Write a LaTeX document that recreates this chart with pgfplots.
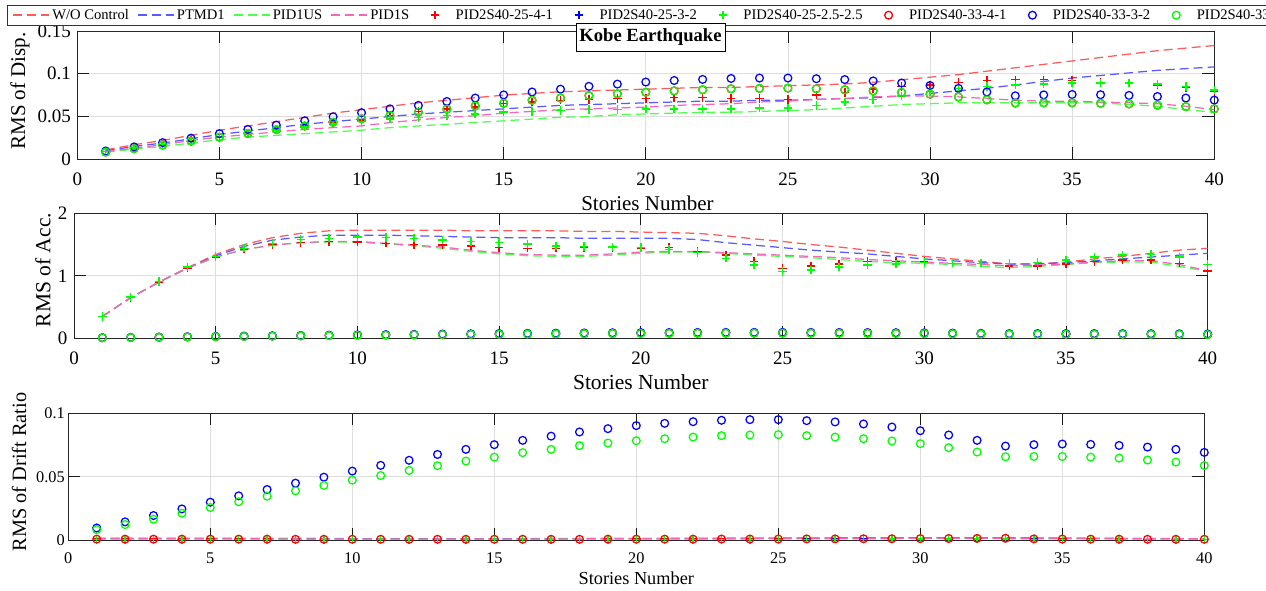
\documentclass[border=0pt]{standalone}
\usepackage{pgfplots}
\usepackage{pgfplotstable}
\pgfplotsset{compat=1.18}
\usepackage{fontspec}
\setmainfont{Liberation Serif}

% n wo pt us ps rp bp gp ro bo go
\pgfplotstableread{
n wo pt us ps rp bp gp ro bo go
1 0.011 0.010 0.008 0.009 0.009 0.009 0.009 0.0084 0.0097 0.0084
2 0.017 0.015 0.012 0.013 0.013 0.013 0.013 0.0124 0.0145 0.0124
3 0.022 0.019 0.015 0.017 0.017 0.017 0.017 0.0166 0.0195 0.0166
4 0.028 0.024 0.019 0.022 0.022 0.021 0.021 0.0213 0.0247 0.0213
5 0.034 0.029 0.023 0.026 0.026 0.026 0.026 0.0258 0.0300 0.0258
6 0.039 0.033 0.026 0.029 0.031 0.030 0.030 0.0303 0.0350 0.0303
7 0.044 0.037 0.028 0.032 0.035 0.034 0.034 0.0347 0.0400 0.0347
8 0.049 0.041 0.030 0.035 0.039 0.038 0.038 0.0390 0.0450 0.0390
9 0.054 0.044 0.032 0.037 0.043 0.041 0.041 0.0432 0.0497 0.0432
10 0.058 0.047 0.034 0.039 0.046 0.044 0.044 0.0474 0.0545 0.0474
11 0.062 0.050 0.037 0.043 0.051 0.047 0.047 0.0510 0.0590 0.0510
12 0.066 0.053 0.039 0.046 0.056 0.049 0.049 0.0550 0.0630 0.0550
13 0.069 0.055 0.041 0.049 0.059 0.051 0.051 0.0587 0.0676 0.0587
14 0.072 0.057 0.043 0.051 0.061 0.053 0.053 0.0624 0.0716 0.0624
15 0.075 0.059 0.045 0.054 0.065 0.055 0.055 0.0655 0.0753 0.0655
16 0.077 0.061 0.047 0.056 0.067 0.056 0.056 0.0690 0.0787 0.0690
17 0.079 0.063 0.049 0.058 0.069 0.057 0.057 0.0716 0.0820 0.0716
18 0.080 0.064 0.050 0.059 0.070 0.058 0.058 0.0745 0.0853 0.0745
19 0.081 0.065 0.052 0.060 0.071 0.058 0.058 0.0766 0.0879 0.0766
20 0.082 0.066 0.053 0.061 0.071 0.059 0.059 0.0784 0.0903 0.0784
21 0.083 0.067 0.054 0.063 0.072 0.059 0.059 0.0800 0.0921 0.0800
22 0.084 0.068 0.055 0.064 0.072 0.059 0.059 0.0813 0.0934 0.0813
23 0.084 0.068 0.055 0.065 0.071 0.059 0.059 0.0824 0.0945 0.0824
24 0.085 0.069 0.056 0.067 0.071 0.060 0.060 0.0829 0.0950 0.0829
25 0.086 0.069 0.057 0.068 0.070 0.060 0.060 0.0832 0.0950 0.0832
26 0.087 0.070 0.058 0.070 0.075 0.063 0.063 0.0824 0.0942 0.0824
27 0.088 0.071 0.060 0.071 0.078 0.067 0.067 0.0813 0.0932 0.0813
28 0.090 0.072 0.062 0.073 0.082 0.070 0.070 0.0800 0.0916 0.0800
29 0.093 0.074 0.064 0.074 0.085 0.074 0.074 0.0782 0.0892 0.0782
30 0.096 0.077 0.065 0.074 0.087 0.079 0.079 0.0761 0.0863 0.0761
31 0.099 0.080 0.066 0.073 0.090 0.083 0.083 0.0729 0.0829 0.0729
32 0.103 0.083 0.066 0.071 0.092 0.085 0.085 0.0695 0.0787 0.0695
33 0.107 0.087 0.066 0.069 0.093 0.087 0.087 0.0658 0.0742 0.0658
34 0.111 0.091 0.066 0.068 0.093 0.088 0.088 0.0660 0.0753 0.0660
35 0.115 0.095 0.066 0.068 0.092 0.089 0.089 0.0660 0.0758 0.0660
36 0.119 0.098 0.066 0.067 0.090 0.089 0.089 0.0655 0.0755 0.0655
37 0.123 0.101 0.064 0.066 0.089 0.089 0.089 0.0647 0.0747 0.0647
38 0.127 0.104 0.062 0.065 0.087 0.088 0.088 0.0632 0.0734 0.0632
39 0.130 0.106 0.058 0.062 0.084 0.085 0.085 0.0616 0.0716 0.0616
40 0.133 0.108 0.055 0.058 0.080 0.081 0.081 0.0589 0.0692 0.0589
}\tdisp

\pgfplotstableread{
n wo pt us ps rp bp gp ro bo go
1 0.35 0.35 0.35 0.35 0.35 0.35 0.35 0.0084 0.0097 0.0084
2 0.65 0.65 0.65 0.65 0.65 0.66 0.66 0.0124 0.0145 0.0124
3 0.90 0.90 0.90 0.90 0.90 0.91 0.91 0.0166 0.0195 0.0166
4 1.13 1.12 1.12 1.12 1.12 1.14 1.14 0.0213 0.0247 0.0213
5 1.34 1.32 1.30 1.30 1.30 1.31 1.31 0.0258 0.0300 0.0258
6 1.50 1.47 1.42 1.42 1.43 1.44 1.44 0.0303 0.0350 0.0303
7 1.61 1.57 1.49 1.49 1.50 1.52 1.52 0.0347 0.0400 0.0347
8 1.68 1.62 1.53 1.53 1.53 1.58 1.58 0.0390 0.0450 0.0390
9 1.72 1.65 1.54 1.55 1.55 1.60 1.60 0.0432 0.0497 0.0432
10 1.73 1.65 1.54 1.55 1.54 1.62 1.62 0.0474 0.0545 0.0474
11 1.73 1.65 1.51 1.52 1.52 1.61 1.61 0.0510 0.0590 0.0510
12 1.73 1.64 1.48 1.49 1.50 1.60 1.60 0.0550 0.0630 0.0550
13 1.73 1.63 1.44 1.46 1.49 1.57 1.57 0.0587 0.0676 0.0587
14 1.72 1.62 1.39 1.41 1.48 1.55 1.55 0.0624 0.0716 0.0624
15 1.72 1.61 1.35 1.37 1.45 1.53 1.53 0.0655 0.0753 0.0655
16 1.72 1.61 1.32 1.34 1.44 1.51 1.51 0.0690 0.0787 0.0690
17 1.72 1.61 1.31 1.33 1.44 1.48 1.48 0.0716 0.0820 0.0716
18 1.71 1.60 1.31 1.33 1.45 1.47 1.47 0.0745 0.0853 0.0745
19 1.71 1.60 1.33 1.35 1.45 1.46 1.46 0.0766 0.0879 0.0766
20 1.70 1.60 1.36 1.38 1.44 1.45 1.45 0.0784 0.0903 0.0784
21 1.69 1.60 1.38 1.39 1.45 1.42 1.42 0.0800 0.0921 0.0800
22 1.68 1.58 1.38 1.39 1.39 1.37 1.37 0.0813 0.0934 0.0813
23 1.64 1.53 1.36 1.37 1.33 1.28 1.28 0.0824 0.0945 0.0824
24 1.59 1.49 1.33 1.35 1.23 1.17 1.17 0.0829 0.0950 0.0829
25 1.55 1.45 1.31 1.33 1.12 1.07 1.07 0.0832 0.0950 0.0832
26 1.50 1.41 1.29 1.31 1.16 1.09 1.09 0.0824 0.0942 0.0824
27 1.46 1.38 1.26 1.29 1.19 1.14 1.14 0.0813 0.0932 0.0813
28 1.41 1.35 1.23 1.26 1.23 1.17 1.17 0.0800 0.0916 0.0800
29 1.36 1.31 1.21 1.24 1.23 1.19 1.19 0.0782 0.0892 0.0782
30 1.31 1.27 1.20 1.22 1.23 1.21 1.21 0.0761 0.0863 0.0761
31 1.27 1.24 1.18 1.20 1.20 1.20 1.20 0.0729 0.0829 0.0729
32 1.23 1.21 1.15 1.18 1.20 1.20 1.20 0.0695 0.0787 0.0695
33 1.19 1.19 1.13 1.16 1.16 1.20 1.20 0.0658 0.0742 0.0658
34 1.19 1.19 1.15 1.17 1.16 1.21 1.21 0.0660 0.0753 0.0660
35 1.22 1.21 1.18 1.19 1.19 1.25 1.25 0.0660 0.0758 0.0660
36 1.27 1.24 1.21 1.22 1.23 1.30 1.30 0.0655 0.0755 0.0655
37 1.31 1.27 1.22 1.24 1.25 1.33 1.33 0.0647 0.0747 0.0647
38 1.36 1.30 1.22 1.24 1.25 1.34 1.34 0.0632 0.0734 0.0632
39 1.41 1.33 1.15 1.18 1.20 1.30 1.30 0.0616 0.0716 0.0616
40 1.44 1.36 1.07 1.08 1.08 1.18 1.18 0.0589 0.0692 0.0589
}\tacc

\pgfplotstableread{
n wo pt us ps rp bp gp ro bo go
1 0.0016 0.0015 0.0010 0.0012 0.0009 0.0007 0.0006 0.0009 0.0097 0.0084
2 0.0016 0.0015 0.0010 0.0012 0.0009 0.0007 0.0006 0.0009 0.0145 0.0124
3 0.0016 0.0015 0.0010 0.0012 0.0009 0.0007 0.0006 0.0009 0.0195 0.0166
4 0.0016 0.0015 0.0010 0.0012 0.0009 0.0007 0.0006 0.0009 0.0247 0.0213
5 0.0016 0.0015 0.0010 0.0012 0.0009 0.0007 0.0006 0.0009 0.0300 0.0258
6 0.0015 0.0015 0.0010 0.0012 0.0009 0.0007 0.0006 0.0009 0.0350 0.0303
7 0.0015 0.0014 0.0010 0.0011 0.0009 0.0007 0.0006 0.0009 0.0400 0.0347
8 0.0014 0.0014 0.0009 0.0011 0.0008 0.0007 0.0006 0.0008 0.0450 0.0390
9 0.0014 0.0013 0.0009 0.0011 0.0008 0.0007 0.0006 0.0008 0.0497 0.0432
10 0.0013 0.0013 0.0009 0.0011 0.0008 0.0007 0.0006 0.0008 0.0545 0.0474
11 0.0013 0.0013 0.0009 0.0011 0.0008 0.0007 0.0006 0.0008 0.0590 0.0510
12 0.0013 0.0013 0.0009 0.0011 0.0008 0.0007 0.0006 0.0008 0.0630 0.0550
13 0.0013 0.0013 0.0009 0.0011 0.0008 0.0007 0.0006 0.0008 0.0676 0.0587
14 0.0013 0.0013 0.0009 0.0011 0.0008 0.0007 0.0006 0.0008 0.0716 0.0624
15 0.0013 0.0013 0.0009 0.0011 0.0008 0.0007 0.0006 0.0008 0.0753 0.0655
16 0.0013 0.0013 0.0009 0.0011 0.0008 0.0007 0.0006 0.0008 0.0787 0.0690
17 0.0014 0.0013 0.0009 0.0011 0.0008 0.0007 0.0006 0.0008 0.0820 0.0716
18 0.0014 0.0013 0.0010 0.0011 0.0008 0.0007 0.0006 0.0008 0.0853 0.0745
19 0.0014 0.0014 0.0010 0.0012 0.0009 0.0007 0.0006 0.0009 0.0879 0.0766
20 0.0015 0.0014 0.0010 0.0012 0.0009 0.0007 0.0006 0.0009 0.0903 0.0784
21 0.0015 0.0014 0.0010 0.0012 0.0009 0.0007 0.0006 0.0009 0.0921 0.0800
22 0.0016 0.0015 0.0011 0.0013 0.0009 0.0008 0.0007 0.0009 0.0934 0.0813
23 0.0016 0.0015 0.0011 0.0013 0.0010 0.0008 0.0007 0.0010 0.0945 0.0824
24 0.0017 0.0016 0.0011 0.0013 0.0010 0.0008 0.0007 0.0010 0.0950 0.0829
25 0.0017 0.0016 0.0012 0.0014 0.0010 0.0008 0.0007 0.0010 0.0950 0.0832
26 0.0018 0.0017 0.0012 0.0014 0.0011 0.0009 0.0008 0.0011 0.0942 0.0824
27 0.0018 0.0017 0.0012 0.0014 0.0011 0.0009 0.0008 0.0011 0.0932 0.0813
28 0.0019 0.0018 0.0013 0.0015 0.0012 0.0009 0.0008 0.0012 0.0916 0.0800
29 0.0019 0.0018 0.0013 0.0015 0.0012 0.0010 0.0009 0.0012 0.0892 0.0782
30 0.0020 0.0019 0.0014 0.0016 0.0013 0.0010 0.0009 0.0013 0.0863 0.0761
31 0.0020 0.0019 0.0014 0.0016 0.0014 0.0011 0.0010 0.0014 0.0829 0.0729
32 0.0020 0.0019 0.0014 0.0016 0.0015 0.0011 0.0010 0.0015 0.0787 0.0695
33 0.0019 0.0018 0.0013 0.0015 0.0016 0.0010 0.0009 0.0016 0.0742 0.0658
34 0.0018 0.0017 0.0013 0.0015 0.0011 0.0009 0.0008 0.0011 0.0753 0.0660
35 0.0017 0.0016 0.0012 0.0014 0.0010 0.0008 0.0007 0.0010 0.0758 0.0660
36 0.0016 0.0015 0.0012 0.0014 0.0009 0.0008 0.0007 0.0009 0.0755 0.0655
37 0.0015 0.0014 0.0011 0.0013 0.0009 0.0007 0.0006 0.0009 0.0747 0.0647
38 0.0014 0.0013 0.0011 0.0013 0.0008 0.0007 0.0006 0.0008 0.0734 0.0632
39 0.0013 0.0012 0.0010 0.0012 0.0008 0.0006 0.0005 0.0008 0.0716 0.0616
40 0.0012 0.0011 0.0009 0.0011 0.0008 0.0006 0.0005 0.0008 0.0692 0.0589
}\tdrift

\pgfplotsset{
  linelegend/.style={legend image code/.code={%
    \draw[draw=#1, line width=1.5pt, dash pattern=on 9pt off 5pt] (0pt,0pt) -- (36pt,0pt);}},
  pluslegend/.style={legend image code/.code={%
    \path[draw=none] (0pt,0pt) -- (36pt,0pt);
    \draw[draw=#1, line width=1.6pt, solid] (13.8pt,0pt) -- (22.2pt,0pt) (18pt,-4.2pt) -- (18pt,4.2pt);}},
  circlegend/.style={legend image code/.code={%
    \path[draw=none] (0pt,0pt) -- (36pt,0pt);
    \draw[draw=#1, line width=1.3pt, solid] (18pt,0pt) circle[radius=3.9pt];}},
  dline/.style={no markers, line width=1.25pt, dash pattern=on 9pt off 5pt, color=#1, draw=#1, linelegend=#1},
  pmark/.style={only marks, mark=+, mark size=4.2pt, mark options={line width=1.5pt, solid, draw=#1}, color=#1, pluslegend=#1},
  omark/.style={only marks, mark=o, mark size=3.9pt, mark options={line width=1.25pt, solid, draw=#1}, color=#1, circlegend=#1},
  mstyle/.style={
    scale only axis, xmin=0, xmax=40, xtick={0,5,...,40}, clip=false,
    axis line style={draw=black!85, line width=0.8pt},
    every tick/.style={draw=black!90, line width=0.8pt},
    tick align=inside, major tick length=12pt,
    xmajorgrids, ymajorgrids,
    grid style={draw=black!13, line width=0.8pt},
    /pgf/number format/assume math mode=true,
    xlabel={Stories Number},
  },
}

\newcommand{\plotall}[1]{%
  \addplot[dline=red!65!white] table[x=n,y=wo]{#1};
  \addplot[dline=blue!65!white] table[x=n,y=pt]{#1};
  \addplot[dline=green!70!white] table[x=n,y=us]{#1};
  \addplot[dline=magenta!60!white] table[x=n,y=ps]{#1};
  \addplot[pmark=red] table[x=n,y=rp]{#1};
  \addplot[pmark=blue] table[x=n,y=bp]{#1};
  \addplot[pmark=green] table[x=n,y=gp]{#1};
  \addplot[omark=red] table[x=n,y=ro]{#1};
  \addplot[omark=blue] table[x=n,y=bo]{#1};
  \addplot[omark=green] table[x=n,y=go]{#1};
}

\begin{document}
\begin{tikzpicture}
\path[use as bounding box] (0pt,0pt) rectangle (1266pt,591pt);
\clip (0pt,0pt) rectangle (1266pt,591pt);

% ---- axis 1: displacement
\begin{axis}[mstyle,
  at={(77.3pt,431.7pt)}, anchor=south west, width=1137pt, height=128.3pt,
  ymin=0, ymax=0.15, ytick={0,0.05,0.1,0.15}, yticklabels={0,0.05,0.1,0.15},
  tick label style={font=\fontsize{19}{22}\selectfont},
  xticklabel style={yshift=-10pt},
  yticklabel style={xshift=-3pt},
  label style={font=\fontsize{21}{24}\selectfont},
  ylabel={RMS of Disp.},
  ylabel style={at={(axis description cs:-0.0504,0.532)}, anchor=center},
  xlabel style={at={(axis description cs:0.5015,-0.3406)}, anchor=center},
  legend columns=-1,
  legend cell align=left,
  legend style={at={(-0.0615,1.2027)}, anchor=north west,
    draw=black!80, line width=0.8pt, fill=white,
    font=\fontsize{14.6}{17}\selectfont,
    inner xsep=4.5pt, inner ysep=2pt,
    /tikz/every odd column/.style={column sep=2.5pt},
    /tikz/every even column/.style={column sep=8pt},
    nodes={inner xsep=0pt, inner ysep=2pt}},
]
\plotall{\tdisp}
\legend{W/O Control,PTMD1,PID1US,PID1S,PID2S40-25-4-1,PID2S40-25-3-2,PID2S40-25-2.5-2.5,PID2S40-33-4-1,PID2S40-33-3-2,PID2S40-33-2.5-2.5}
\end{axis}

% ---- axis 2: acceleration
\begin{axis}[mstyle,
  at={(74pt,252.7pt)}, anchor=south west, width=1133.7pt, height=125pt,
  ymin=0, ymax=2, ytick={0,1,2},
  tick label style={font=\fontsize{19}{22}\selectfont},
  xticklabel style={yshift=-10.5pt},
  yticklabel style={xshift=-3pt},
  label style={font=\fontsize{21.5}{24}\selectfont},
  ylabel={RMS of Acc.},
  ylabel style={at={(axis description cs:-0.0273,0.546)}, anchor=center},
  xlabel style={at={(axis description cs:0.5,-0.3496)}, anchor=center},
]
\plotall{\tacc}
\end{axis}

% ---- axis 3: drift ratio
\begin{axis}[mstyle,
  at={(68.3pt,50.7pt)}, anchor=south west, width=1136pt, height=127pt,
  ymin=0, ymax=0.1, ytick={0,0.05,0.1}, yticklabels={0,0.05,0.1},
  tick label style={font=\fontsize{16.3}{19}\selectfont},
  xticklabel style={yshift=-9pt},
  label style={font=\fontsize{18.3}{21}\selectfont},
  ylabel={RMS of Drift Ratio},
  ylabel style={font=\fontsize{20.3}{23}\selectfont, at={(axis description cs:-0.0434,0.538)}, anchor=center},
  xlabel style={at={(axis description cs:0.5,-0.297)}, anchor=center},
]
\plotall{\tdrift}
\end{axis}

\node[draw=black, line width=0.8pt, fill=white, inner xsep=3.5pt, minimum height=28pt,
  font=\bfseries\fontsize{18.6}{22}\selectfont] at (650.5pt,553.5pt) {Kobe Earthquake};
\end{tikzpicture}
\end{document}
